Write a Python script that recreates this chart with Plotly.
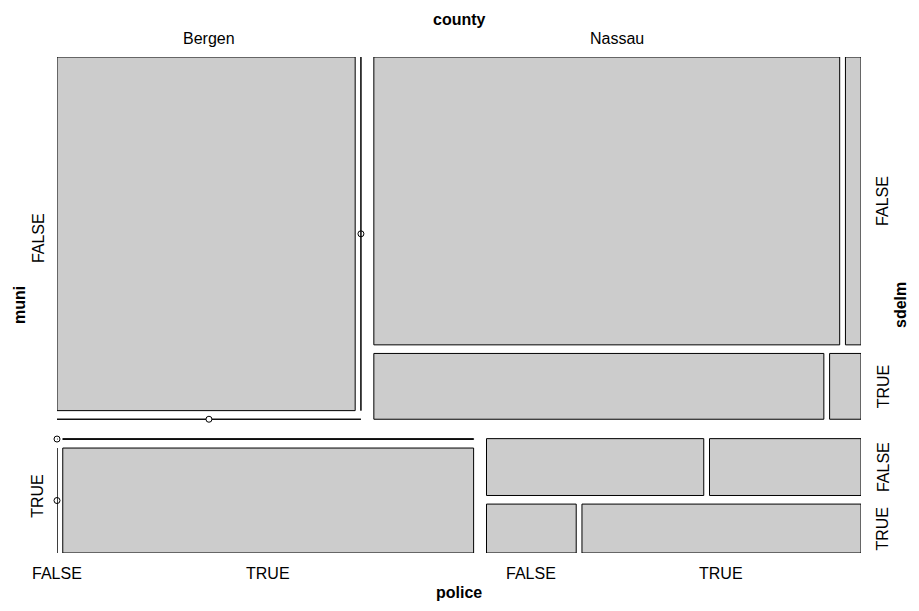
import numpy as np
import plotly.graph_objects as go

# ---- data: counts[muni][county][sdelm][police] ----
muni_levels = ["FALSE", "TRUE"]
county_levels = ["Bergen", "Nassau"]
sdelm_levels = ["FALSE", "TRUE"]
police_levels = ["FALSE", "TRUE"]

# muni = FALSE
bergen_muniF = [[617, 0],   # sdelm FALSE: police FALSE, TRUE
                [0, 0]]     # sdelm TRUE
nassau_muniF = [[779, 26],
                [172, 12]]
# muni = TRUE
bergen_muniT = [[0, 2],
                [0, 265]]
nassau_muniT = [[76, 53],
                [27, 84]]

counts = np.array([[bergen_muniF, nassau_muniF],
                   [bergen_muniT, nassau_muniT]], dtype=float)

var_names = ["muni", "county", "sdelm", "police"]

# ---- layout geometry (pixels) ----
W, H = 919, 611
ML, MR, MT, MB = 57, 58, 57, 58
PW = W - ML - MR
PH = H - MT - MB
gaps = [19.4, 12.9, 8.6, 5.75]          # spacing per level
horizontal = [False, True, False, True]  # split direction per level
EPS = 1e-12

shapes = []
bullets_x, bullets_y = [], []
boxes = {}


def split(sub, level, box, idx, zero_parent):
    x0, y0, x1, y1 = box
    margins = sub.reshape(sub.shape[0], -1).sum(axis=1)
    m = np.where(margins == 0, EPS, margins)
    n = len(m)
    length = (x1 - x0) if horizontal[level] else (y1 - y0)
    content = length - gaps[level] * (n - 1)
    pos = x0 if horizontal[level] else y0
    for k in range(n):
        size = content * m[k] / m.sum()
        if horizontal[level]:
            cb = (pos, y0, pos + size, y1)
        else:
            cb = (x0, pos, x1, pos + size)
        cidx = idx + (k,)
        boxes[cidx] = cb
        is_zero = margins[k] == 0
        if is_zero and not zero_parent:
            bullets_x.append((cb[0] + cb[2]) / 2)
            bullets_y.append((cb[1] + cb[3]) / 2)
        if sub.ndim > 1:
            split(sub[k], level + 1, cb, cidx, zero_parent or is_zero)
        else:
            shapes.append(dict(type="rect", xref="x", yref="y",
                               x0=cb[0], x1=cb[2], y0=cb[1], y1=cb[3],
                               fillcolor="#CCCCCC",
                               line=dict(color="black", width=1),
                               layer="below"))
        pos += size + gaps[level]


split(counts, 0, (0.0, 0.0, float(PW), float(PH)), (), False)

fig = go.Figure()
fig.add_trace(go.Scatter(x=bullets_x, y=bullets_y, mode="markers",
                         marker=dict(symbol="circle-open", size=6, color="black",
                                     line=dict(width=1, color="black")),
                         cliponaxis=False, hoverinfo="skip", showlegend=False))

FONT = dict(family="Liberation Sans, Arial, sans-serif", size=16, color="black")
ann = []

# top: county labels (first muni row)
for j, lab in enumerate(county_levels):
    b = boxes[(0, j)]
    ann.append(dict(text=lab, xref="x", yref="paper", x=(b[0] + b[2]) / 2, y=1,
                    yshift=19, showarrow=False, font=FONT, xanchor="center", yanchor="middle"))
ann.append(dict(text="<b>county</b>", xref="paper", yref="paper", x=0.5, y=1, yshift=38,
                showarrow=False, font=FONT, xanchor="center", yanchor="middle"))

# left: muni labels
for i, lab in enumerate(muni_levels):
    b = boxes[(i,)]
    ann.append(dict(text=lab, xref="paper", yref="y", x=0, y=(b[1] + b[3]) / 2,
                    xshift=-19, showarrow=False, font=FONT, textangle=-90,
                    xanchor="center", yanchor="middle"))
ann.append(dict(text="<b>muni</b>", xref="paper", yref="paper", x=0, y=0.5, xshift=-38,
                showarrow=False, font=FONT, textangle=-90, xanchor="center", yanchor="middle"))

# bottom: police labels (last row: muni TRUE, sdelm TRUE)
for j in range(len(county_levels)):
    for p, lab in enumerate(police_levels):
        b = boxes[(1, j, 1, p)]
        ann.append(dict(text=lab, xref="x", yref="paper", x=(b[0] + b[2]) / 2, y=0,
                        yshift=-20, showarrow=False, font=FONT,
                        xanchor="center", yanchor="middle"))
ann.append(dict(text="<b>police</b>", xref="paper", yref="paper", x=0.5, y=0, yshift=-39,
                showarrow=False, font=FONT, xanchor="center", yanchor="middle"))

# right: sdelm labels (last column: Nassau)
for i in range(len(muni_levels)):
    for s, lab in enumerate(sdelm_levels):
        b = boxes[(i, 1, s)]
        ann.append(dict(text=lab, xref="paper", yref="y", x=1, y=(b[1] + b[3]) / 2,
                        xshift=22, showarrow=False, font=FONT, textangle=-90,
                        xanchor="center", yanchor="middle"))
ann.append(dict(text="<b>sdelm</b>", xref="paper", yref="paper", x=1, y=0.5, xshift=39,
                showarrow=False, font=FONT, textangle=-90, xanchor="center", yanchor="middle"))

fig.update_layout(
    width=W, height=H,
    margin=dict(l=ML, r=MR, t=MT, b=MB, pad=0),
    paper_bgcolor="white", plot_bgcolor="white",
    shapes=shapes, annotations=ann,
    xaxis=dict(range=[0, PW], visible=False, fixedrange=True),
    yaxis=dict(range=[PH, 0], visible=False, fixedrange=True),
    showlegend=False,
)

fig.write_html("out.html")
